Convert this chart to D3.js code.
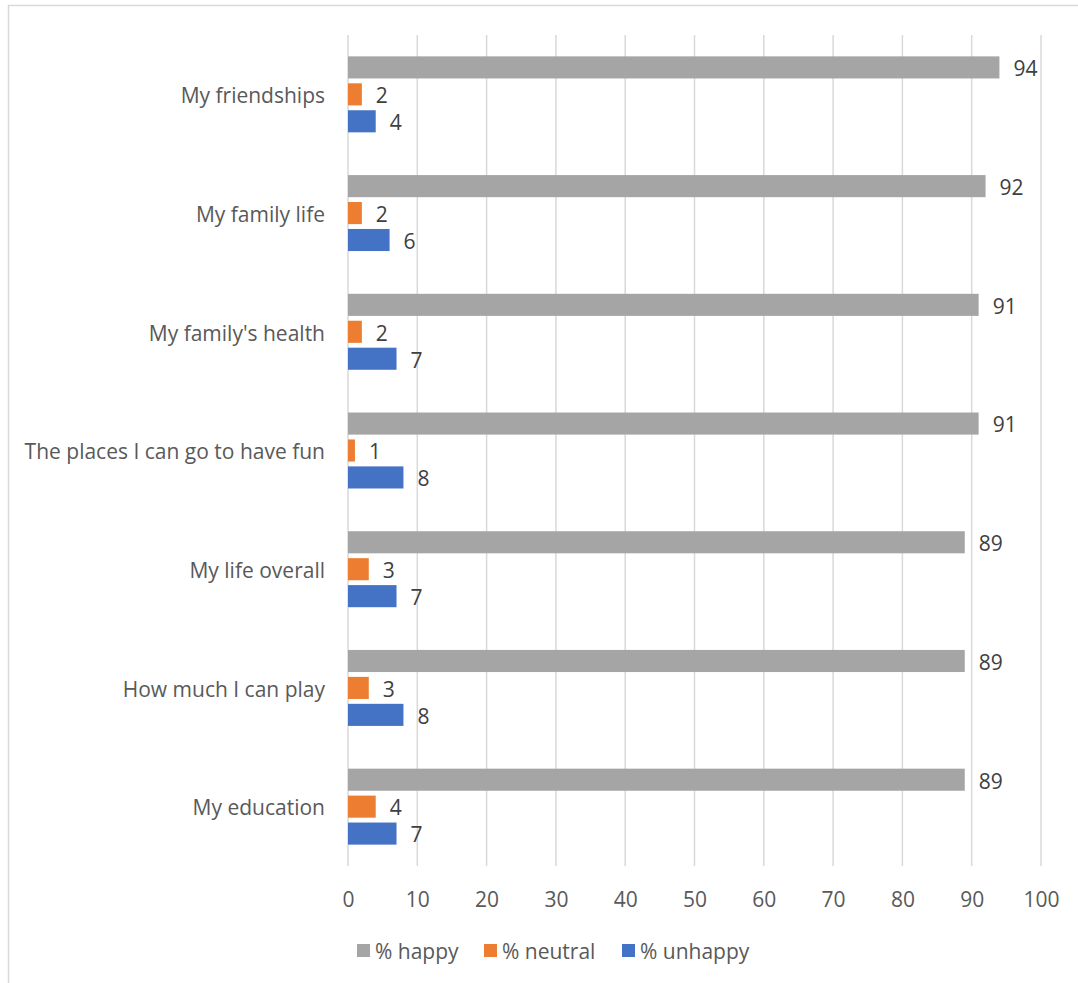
<!DOCTYPE html>
<html><head><meta charset="utf-8">
<script src="https://cdn.jsdelivr.net/npm/d3@7"></script>
<style>body{margin:0;background:#fff}svg{display:block}text{font-family:"Open Sans",sans-serif}</style>
</head><body>
<script>
const categories = ["My friendships","My family life","My family's health","The places I can go to have fun","My life overall","How much I can play","My education"];
const seriesNames = ["% happy","% neutral","% unhappy"];
const happy   = [94,92,91,91,89,89,89];
const neutral = [2,2,2,1,3,3,4];
const unhappy = [4,6,7,8,7,8,7];
const seriesColors = ["#A5A5A5","#ED7D31","#4472C4"];
const xTicks = [0,10,20,30,40,50,60,70,80,90,100];

const W=1078,H=983,FS=21,DY="0.42em";
const svg=d3.select("body").append("svg").attr("width",W).attr("height",H);
svg.append("rect").attr("x",8.5).attr("y",5.5).attr("width",W).attr("height",H+20)
  .attr("fill","none").attr("stroke","#D9D9D9").attr("stroke-width",1.5);

const x=d3.scaleLinear().domain([0,100]).range([348,1041]);
const y=d3.scaleBand().domain(categories).range([35,866]).paddingInner(0.36).paddingOuter(0.18);
const ys=d3.scaleBand().domain(seriesNames).range([0,y.bandwidth()]).paddingInner(0.18);

// gridlines
svg.append("g").selectAll("line").data(xTicks).join("line")
  .attr("x1",d=>x(d)).attr("x2",d=>x(d)).attr("y1",35).attr("y2",866)
  .attr("stroke","#D9D9D9").attr("stroke-width",1.5);

// x axis labels
const ax=svg.append("g").attr("transform","translate(0,898)").call(d3.axisBottom(x).tickValues(xTicks).tickSize(0).tickPadding(0));
ax.select(".domain").remove();
ax.selectAll("text").attr("font-size",FS).attr("fill","#595959").attr("font-family","Open Sans").attr("dy",DY).attr("y",0);

// category labels
const ay=svg.append("g").attr("transform","translate(325,0)").call(d3.axisLeft(y).tickSize(0).tickPadding(0));
ay.select(".domain").remove();
ay.selectAll("text").attr("font-size",FS).attr("fill","#595959").attr("font-family","Open Sans").attr("dy",DY);

const data=[happy,neutral,unhappy];
data.forEach((vals,si)=>{
  const g=svg.append("g");
  g.selectAll("rect").data(vals).join("rect")
    .attr("x",x(0)).attr("y",(d,i)=>y(categories[i])+ys(seriesNames[si]))
    .attr("width",d=>x(d)-x(0)).attr("height",ys.bandwidth())
    .attr("fill",seriesColors[si]);
  g.selectAll("text").data(vals).join("text")
    .attr("x",d=>x(d)+14).attr("y",(d,i)=>y(categories[i])+ys(seriesNames[si])+ys.bandwidth()/2)
    .attr("dy",DY).attr("font-size",FS).attr("fill","#404040").text(d=>d);
});

// legend
const legX=[357,484,622];
const lg=svg.append("g");
seriesNames.forEach((s,i)=>{
  lg.append("rect").attr("x",legX[i]).attr("y",944).attr("width",13).attr("height",13).attr("fill",seriesColors[i]);
  lg.append("text").attr("x",legX[i]+18).attr("y",950.5).attr("dy",DY).attr("font-size",FS).attr("fill","#595959").text(s);
});
</script>
</body></html>
